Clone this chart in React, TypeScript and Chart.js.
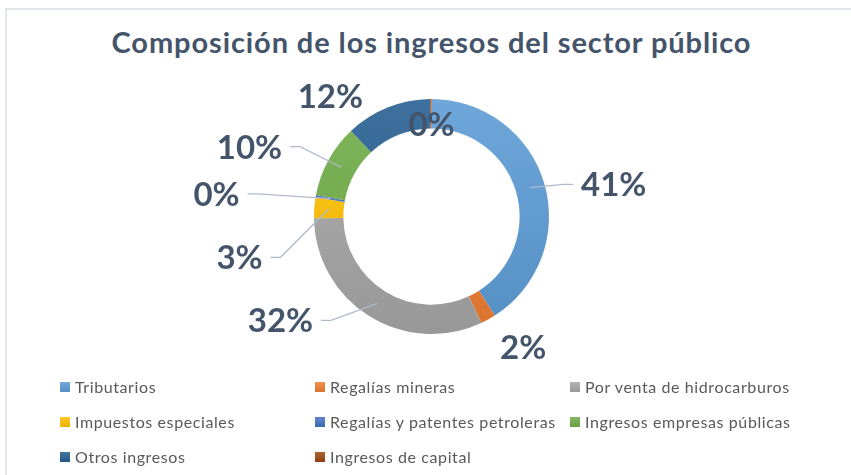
import { useEffect, useRef } from "react";
import { Chart, registerables } from "chart.js";

Chart.register(...registerables);

const titleText = "Composición de los ingresos del sector público";
const categories = [
  "Tributarios",
  "Regalías mineras",
  "Por venta de hidrocarburos",
  "Impuestos especiales",
  "Regalías y patentes petroleras",
  "Ingresos empresas públicas",
  "Otros ingresos",
  "Ingresos de capital",
];
const shares = [41.2, 2.1, 31.9, 2.9, 0.3, 10.1, 11.9, 0.2];
const sliceColors = [
  "#5B9BD5",
  "#ED7D31",
  "#A5A5A5",
  "#FFC000",
  "#4472C4",
  "#70AD47",
  "#255E91",
  "#9E480E",
];
// label placement: [angle from top in degrees, distance as multiple of outer radius, leader line]
const labelAngles = [80, 145, 235.5, 258, 276, 291, 320, 0];
const labelDistances = [1.575, 1.36, 1.56, 1.67, 1.84, 1.66, 1.34, 0.79];
const labelLeaders = [true, false, true, true, true, true, false, false];

const TEXT_COLOR = "#44546A";
const LABEL_FONT = 'bold 33px Lato, "Open Sans", sans-serif';

function shade(hex: string, amt: number): string {
  const n = parseInt(hex.slice(1), 16);
  let r = (n >> 16) & 255, g = (n >> 8) & 255, b = n & 255;
  const f = (c: number) =>
    Math.round(amt >= 0 ? c + (255 - c) * amt : c * (1 + amt));
  r = f(r); g = f(g); b = f(b);
  return `rgb(${r},${g},${b})`;
}

const labelPlugin = {
  id: "sliceLabels",
  afterDatasetsDraw(chart: any) {
    const ctx = chart.ctx as CanvasRenderingContext2D;
    const meta = chart.getDatasetMeta(0);
    const total = shares.reduce((a, b) => a + b, 0);
    ctx.save();
    ctx.font = LABEL_FONT;
    meta.data.forEach((arc: any, i: number) => {
      const p = arc.getProps(
        ["x", "y", "startAngle", "endAngle", "innerRadius", "outerRadius"],
        true
      );
      const a = ((labelAngles[i] - 90) * Math.PI) / 180;
      const lx = p.x + Math.cos(a) * p.outerRadius * labelDistances[i];
      const ly = p.y + Math.sin(a) * p.outerRadius * labelDistances[i];
      const text = Math.round((shares[i] / total) * 100) + "%";
      const w = ctx.measureText(text).width;
      if (labelLeaders[i]) {
        const mid = (p.startAngle + p.endAngle) / 2;
        const rm = (p.innerRadius + p.outerRadius) / 2;
        const sx = p.x + Math.cos(mid) * rm;
        const sy = p.y + Math.sin(mid) * rm;
        const side = lx > p.x ? -1 : 1;
        const ex = lx + side * (w / 2 + 8);
        const elx = ex + side * 10;
        ctx.strokeStyle = "#AEBBCD";
        ctx.lineWidth = 1.3;
        ctx.beginPath();
        ctx.moveTo(sx, sy);
        ctx.lineTo(elx, ly);
        ctx.lineTo(ex, ly);
        ctx.stroke();
      }
      ctx.fillStyle = TEXT_COLOR;
      ctx.textAlign = "center";
      ctx.textBaseline = "alphabetic";
      ctx.fillText(text, lx, ly + 12);
    });
    ctx.restore();
  },
};

function Legend() {
  return (
    <div
      style={{
        position: "absolute",
        left: 60,
        top: 369,
        display: "grid",
        gridTemplateColumns: "255px 255px 255px",
        gridAutoRows: "35px",
        fontFamily: 'Lato, "Open Sans", sans-serif',
        fontSize: 16,
        letterSpacing: "0.6px",
        color: "#595959",
      }}
    >
      {categories.map((c, i) => (
        <div key={c} style={{ display: "flex", alignItems: "center", whiteSpace: "nowrap" }}>
          <span
            style={{
              display: "inline-block",
              width: 10,
              height: 10,
              marginRight: 5,
              background: `linear-gradient(${shade(sliceColors[i], 0.15)}, ${shade(sliceColors[i], -0.08)})`,
            }}
          />
          <span>{c}</span>
        </div>
      ))}
    </div>
  );
}

export default function App() {
  const ref = useRef<HTMLCanvasElement | null>(null);

  useEffect(() => {
    if (!ref.current) return;
    const chart = new Chart(ref.current, {
      type: "doughnut",
      data: {
        labels: categories,
        datasets: [
          {
            data: shares,
            borderWidth: 0,
            backgroundColor: (c: any) => {
              const base = sliceColors[c.dataIndex];
              const area = c.chart.chartArea;
              if (!area) return base;
              const g = c.chart.ctx.createLinearGradient(0, area.top, 0, area.bottom);
              g.addColorStop(0, shade(base, 0.12));
              g.addColorStop(1, shade(base, -0.08));
              return g;
            },
          },
        ],
      },
      options: {
        animation: false,
        responsive: false,
        cutout: "75%",
        layout: { padding: { top: 99, bottom: 141, left: 314, right: 302 } },
        plugins: {
          legend: { display: false },
          title: { display: false },
          tooltip: { enabled: false },
        },
      },
      plugins: [labelPlugin],
    });
    return () => chart.destroy();
  }, []);

  return (
    <div
      style={{
        position: "fixed",
        left: 0,
        top: 0,
        width: 851,
        height: 475,
        background: "#fff",
        overflow: "hidden",
      }}
    >
      <div
        style={{
          position: "absolute",
          left: 5,
          top: 8,
          width: 850,
          height: 480,
          border: "2px solid #E3E7EC",
          boxSizing: "border-box",
        }}
      />
      <div
        style={{
          position: "absolute",
          left: 0,
          top: 28,
          width: 863,
          textAlign: "center",
          fontFamily: 'Lato, "Open Sans", sans-serif',
          fontWeight: 700,
          fontSize: 29,
          letterSpacing: "0.9px",
          lineHeight: "28px",
          color: TEXT_COLOR,
          whiteSpace: "nowrap",
        }}
      >
        {titleText}
      </div>
      <canvas
        ref={ref}
        width={851}
        height={475}
        style={{ position: "absolute", left: 0, top: 0 }}
      />
      <Legend />
    </div>
  );
}
